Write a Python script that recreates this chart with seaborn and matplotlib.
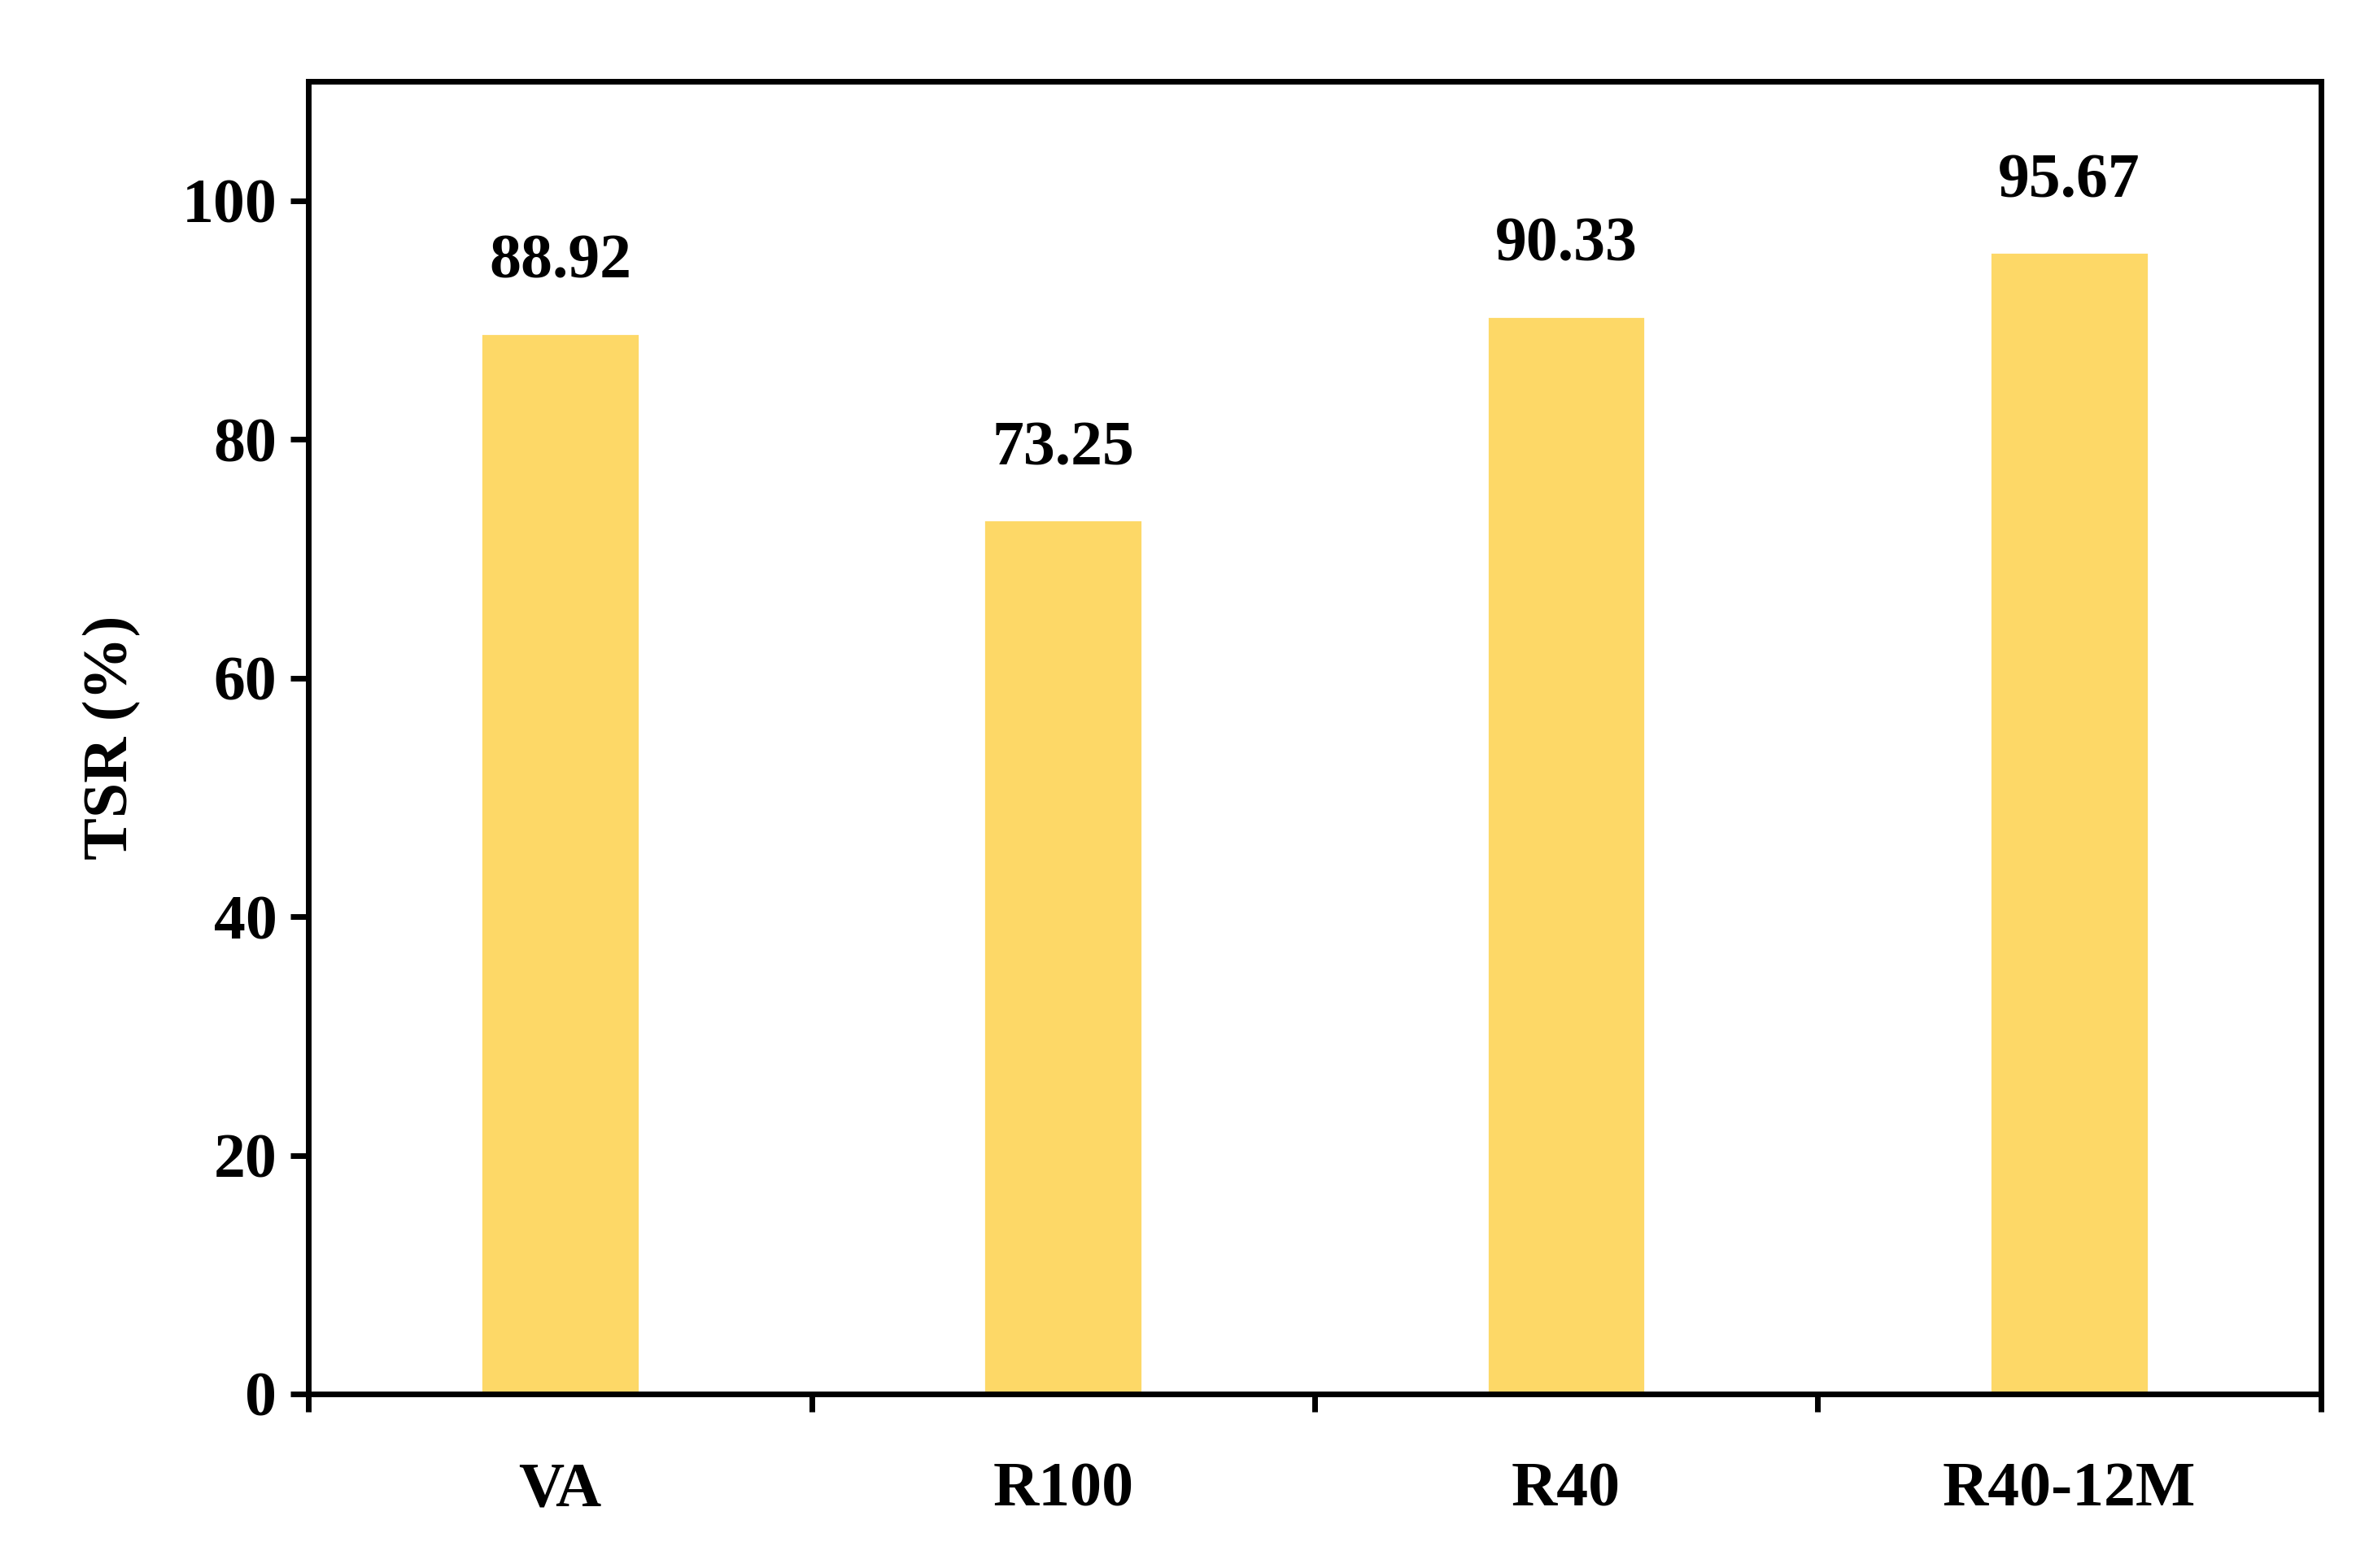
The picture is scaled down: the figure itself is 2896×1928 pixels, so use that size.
import matplotlib
matplotlib.use("Agg")
import matplotlib.pyplot as plt
import seaborn as sns
import pandas as pd

categories = ["VA", "R100", "R40", "R40-12M"]
values = [88.92, 73.25, 90.33, 95.67]
labels = ["88.92", "73.25", "90.33", "95.67"]

sns.set_style("ticks")
plt.rcParams['font.family'] = ['Liberation Serif', 'DejaVu Serif']
plt.rcParams['font.weight'] = 'bold'
plt.rcParams['text.color'] = 'black'
plt.rcParams['axes.labelcolor'] = 'black'
plt.rcParams['xtick.color'] = 'black'
plt.rcParams['ytick.color'] = 'black'
plt.rcParams['axes.edgecolor'] = 'black'

fig = plt.figure(figsize=(14.48, 9.64), dpi=200)
ax = fig.add_axes([0.131, 0.111, 0.854, 0.837])
df = pd.DataFrame({"cat": categories, "val": values})
sns.barplot(data=df, x="cat", y="val", color="#FDD867", saturation=1, width=0.315, ax=ax)
for i, (v, t) in enumerate(zip(values, labels)):
    ax.text(i, v + 3.5, t, ha="center", va="bottom", fontsize=28, fontweight="bold")

ax.set_xlim(-0.5, 3.5)
ax.set_ylim(0, 110)
ax.set_yticks(range(0, 101, 20))
ax.set_xticks([-0.5, 0.5, 1.5, 2.5, 3.5])
ax.set_xticklabels([])
ax.set_xticks([0, 1, 2, 3], minor=True)
ax.set_xticklabels(categories, minor=True)
ax.tick_params(axis="x", which="minor", length=0, pad=30, labelsize=28)
ax.tick_params(axis="x", which="major", length=8, width=2.5, direction="out")
ax.tick_params(axis="y", length=8, width=2.5, direction="out", labelsize=28, pad=6)
for lbl in ax.get_yticklabels() + ax.get_xticklabels(minor=True):
    lbl.set_fontweight("bold")
for s in ax.spines.values():
    s.set_visible(True)
    s.set_linewidth(2.5)
ax.set_xlabel("")
ax.set_ylabel("TSR (%)", fontsize=28, fontweight="bold", labelpad=18)
fig.savefig("out.png", dpi=200)
